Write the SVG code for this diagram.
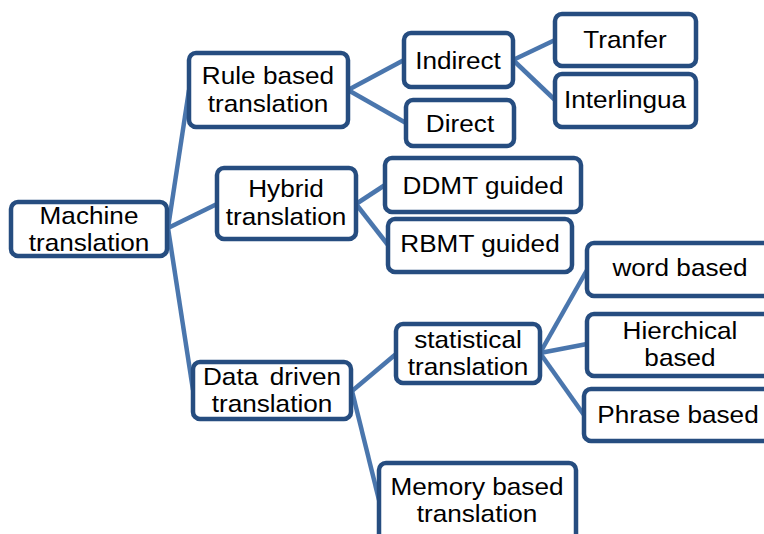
<svg xmlns="http://www.w3.org/2000/svg" width="764" height="534" viewBox="0 0 764 534">
<style>
.box{fill:#fff;stroke:#264d80;stroke-width:4.5}
.c{stroke:#4a76ad;stroke-width:4.5;fill:none;stroke-linecap:butt}
text{font-family:"Liberation Sans",Arial,sans-serif;font-size:24px;fill:#000;text-anchor:middle}
</style>
<rect width="764" height="534" fill="#fff"/>
<g id="connectors">
<line class="c" x1="168" y1="228" x2="189" y2="90"/>
<line class="c" x1="168" y1="228" x2="217" y2="204"/>
<line class="c" x1="168" y1="228" x2="193" y2="390"/>
<line class="c" x1="348" y1="90" x2="404" y2="60"/>
<line class="c" x1="348" y1="90" x2="406" y2="123"/>
<line class="c" x1="513" y1="60" x2="555" y2="40"/>
<line class="c" x1="513" y1="60" x2="555" y2="100"/>
<line class="c" x1="356" y1="204" x2="385" y2="185"/>
<line class="c" x1="356" y1="204" x2="388" y2="245"/>
<line class="c" x1="352" y1="391" x2="396" y2="354"/>
<line class="c" x1="352" y1="391" x2="379" y2="500"/>
<line class="c" x1="540" y1="353" x2="587" y2="270"/>
<line class="c" x1="540" y1="353" x2="587" y2="344"/>
<line class="c" x1="540" y1="353" x2="584" y2="415"/>
</g>
<g id="machine"><rect class="box" x="11" y="202" width="156" height="54" rx="7"/><g transform="translate(89 0) scale(1.09 1)"><text x="0" y="224">Machine</text><text x="0" y="251">translation</text></g></g>
<g id="rule"><rect class="box" x="189" y="53" width="159" height="74" rx="7"/><g transform="translate(268 0) scale(1.09 1)"><text x="0" y="84">Rule based</text><text x="0" y="112">translation</text></g></g>
<g id="indirect"><rect class="box" x="404" y="33" width="109" height="54" rx="7"/><g transform="translate(458 0) scale(1.09 1)"><text x="0" y="69">Indirect</text></g></g>
<g id="direct"><rect class="box" x="406" y="100" width="108" height="46" rx="7"/><g transform="translate(460 0) scale(1.09 1)"><text x="0" y="132">Direct</text></g></g>
<g id="tranfer"><rect class="box" x="555" y="14" width="141" height="52" rx="7"/><g transform="translate(625 0) scale(1.09 1)"><text x="0" y="48">Tranfer</text></g></g>
<g id="interlingua"><rect class="box" x="555" y="74" width="141" height="53" rx="7"/><g transform="translate(625 0) scale(1.09 1)"><text x="0" y="108">Interlingua</text></g></g>
<g id="hybrid"><rect class="box" x="217" y="168" width="139" height="71" rx="7"/><g transform="translate(286 0) scale(1.09 1)"><text x="0" y="197">Hybrid</text><text x="0" y="225">translation</text></g></g>
<g id="ddmt"><rect class="box" x="385" y="158" width="196" height="54" rx="7"/><g transform="translate(483 0) scale(1.09 1)"><text x="0" y="194">DDMT guided</text></g></g>
<g id="rbmt"><rect class="box" x="388" y="219" width="184" height="53" rx="7"/><g transform="translate(480 0) scale(1.09 1)"><text x="0" y="252">RBMT guided</text></g></g>
<g id="datadriven"><rect class="box" x="193" y="362" width="158" height="57" rx="7"/><g transform="translate(272 0) scale(1.09 1)"><text x="0" y="385" word-spacing="4">Data driven</text><text x="0" y="412">translation</text></g></g>
<g id="statistical"><rect class="box" x="396" y="324" width="144" height="59" rx="7"/><g transform="translate(468 0) scale(1.09 1)"><text x="0" y="348">statistical</text><text x="0" y="375">translation</text></g></g>
<g id="word"><rect class="box" x="587" y="243" width="190" height="53" rx="7"/><g transform="translate(680 0) scale(1.09 1)"><text x="0" y="276">word based</text></g></g>
<g id="hierchical"><rect class="box" x="587" y="314" width="190" height="62" rx="7"/><g transform="translate(680 0) scale(1.09 1)"><text x="0" y="339">Hierchical</text><text x="0" y="366">based</text></g></g>
<g id="phrase"><rect class="box" x="584" y="389" width="190" height="52" rx="7"/><g transform="translate(678 0) scale(1.09 1)"><text x="0" y="423">Phrase based</text></g></g>
<g id="memory"><rect class="box" x="379" y="463" width="197" height="80" rx="7"/><g transform="translate(477 0) scale(1.09 1)"><text x="0" y="495">Memory based</text><text x="0" y="522">translation</text></g></g>
</svg>
